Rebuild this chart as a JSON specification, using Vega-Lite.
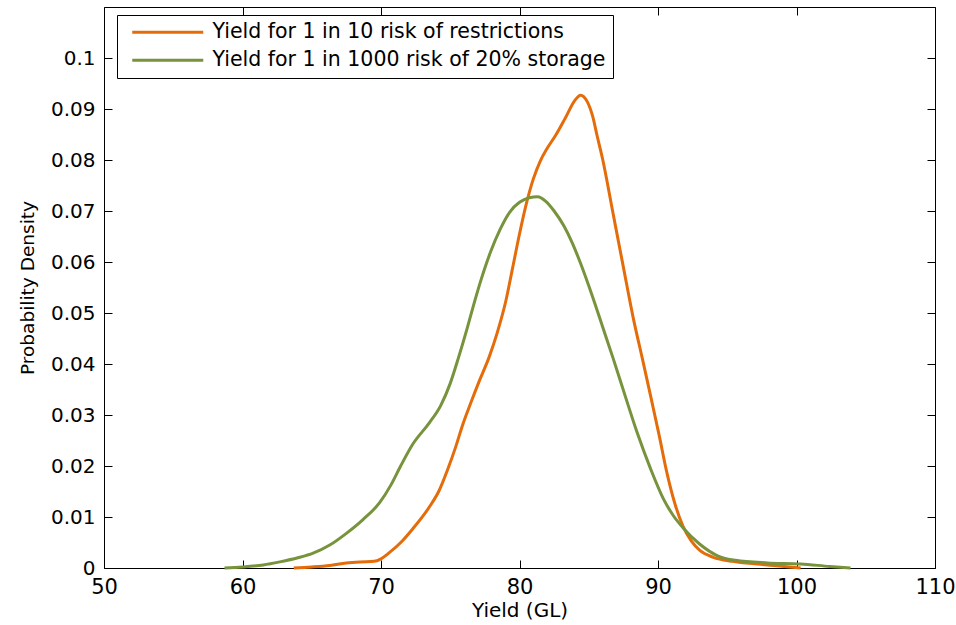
{
  "$schema": "https://vega.github.io/schema/vega-lite/v6.json",
  "width": 831,
  "height": 561,
  "autosize": "none",
  "padding": {"left": 104, "top": 7, "right": 21, "bottom": 57},
  "background": "white",
  "config": {
    "view": {"stroke": "black", "strokeWidth": 1},
    "font": "DejaVu Sans",
    "axis": {"grid": false, "domain": false, "tickColor": "black", "tickWidth": 1, "labelColor": "black", "titleColor": "black", "titleFontWeight": "normal", "tickSize": -8, "labelFlush": false, "labelOverlap": false}
  },
  "datasets": {
    "curves": [
      {"series": "Yield for 1 in 10 risk of restrictions", "x": 63.7, "y": 0},
      {"series": "Yield for 1 in 10 risk of restrictions", "x": 65.0, "y": 0.0002},
      {"series": "Yield for 1 in 10 risk of restrictions", "x": 66.3, "y": 0.0005},
      {"series": "Yield for 1 in 10 risk of restrictions", "x": 67.5, "y": 0.001},
      {"series": "Yield for 1 in 10 risk of restrictions", "x": 68.5, "y": 0.0012},
      {"series": "Yield for 1 in 10 risk of restrictions", "x": 69.5, "y": 0.0013},
      {"series": "Yield for 1 in 10 risk of restrictions", "x": 70.0, "y": 0.0018},
      {"series": "Yield for 1 in 10 risk of restrictions", "x": 70.6, "y": 0.003},
      {"series": "Yield for 1 in 10 risk of restrictions", "x": 71.5, "y": 0.0052},
      {"series": "Yield for 1 in 10 risk of restrictions", "x": 72.3, "y": 0.0077},
      {"series": "Yield for 1 in 10 risk of restrictions", "x": 73.5, "y": 0.012},
      {"series": "Yield for 1 in 10 risk of restrictions", "x": 74.2, "y": 0.0152},
      {"series": "Yield for 1 in 10 risk of restrictions", "x": 74.8, "y": 0.0192},
      {"series": "Yield for 1 in 10 risk of restrictions", "x": 75.4, "y": 0.0238},
      {"series": "Yield for 1 in 10 risk of restrictions", "x": 75.9, "y": 0.0281},
      {"series": "Yield for 1 in 10 risk of restrictions", "x": 76.5, "y": 0.0325},
      {"series": "Yield for 1 in 10 risk of restrictions", "x": 77.1, "y": 0.0367},
      {"series": "Yield for 1 in 10 risk of restrictions", "x": 77.8, "y": 0.0413},
      {"series": "Yield for 1 in 10 risk of restrictions", "x": 78.4, "y": 0.0462},
      {"series": "Yield for 1 in 10 risk of restrictions", "x": 79.0, "y": 0.0522},
      {"series": "Yield for 1 in 10 risk of restrictions", "x": 79.5, "y": 0.0588},
      {"series": "Yield for 1 in 10 risk of restrictions", "x": 80.0, "y": 0.0655},
      {"series": "Yield for 1 in 10 risk of restrictions", "x": 80.5, "y": 0.0715},
      {"series": "Yield for 1 in 10 risk of restrictions", "x": 81.0, "y": 0.0763},
      {"series": "Yield for 1 in 10 risk of restrictions", "x": 81.5, "y": 0.0798},
      {"series": "Yield for 1 in 10 risk of restrictions", "x": 82.0, "y": 0.0823},
      {"series": "Yield for 1 in 10 risk of restrictions", "x": 82.6, "y": 0.0848},
      {"series": "Yield for 1 in 10 risk of restrictions", "x": 83.3, "y": 0.0882},
      {"series": "Yield for 1 in 10 risk of restrictions", "x": 84.0, "y": 0.0917},
      {"series": "Yield for 1 in 10 risk of restrictions", "x": 84.4, "y": 0.0927},
      {"series": "Yield for 1 in 10 risk of restrictions", "x": 84.9, "y": 0.0914},
      {"series": "Yield for 1 in 10 risk of restrictions", "x": 85.3, "y": 0.0884},
      {"series": "Yield for 1 in 10 risk of restrictions", "x": 85.6, "y": 0.0848},
      {"series": "Yield for 1 in 10 risk of restrictions", "x": 86.0, "y": 0.0802},
      {"series": "Yield for 1 in 10 risk of restrictions", "x": 86.75, "y": 0.0696},
      {"series": "Yield for 1 in 10 risk of restrictions", "x": 87.5, "y": 0.059},
      {"series": "Yield for 1 in 10 risk of restrictions", "x": 88.2, "y": 0.0492},
      {"series": "Yield for 1 in 10 risk of restrictions", "x": 88.9, "y": 0.0407},
      {"series": "Yield for 1 in 10 risk of restrictions", "x": 89.5, "y": 0.0333},
      {"series": "Yield for 1 in 10 risk of restrictions", "x": 90.1, "y": 0.0258},
      {"series": "Yield for 1 in 10 risk of restrictions", "x": 90.6, "y": 0.0192},
      {"series": "Yield for 1 in 10 risk of restrictions", "x": 91.2, "y": 0.0128},
      {"series": "Yield for 1 in 10 risk of restrictions", "x": 91.8, "y": 0.0082},
      {"series": "Yield for 1 in 10 risk of restrictions", "x": 92.4, "y": 0.0053},
      {"series": "Yield for 1 in 10 risk of restrictions", "x": 93.0, "y": 0.0035},
      {"series": "Yield for 1 in 10 risk of restrictions", "x": 94.0, "y": 0.0021},
      {"series": "Yield for 1 in 10 risk of restrictions", "x": 95.4, "y": 0.0013},
      {"series": "Yield for 1 in 10 risk of restrictions", "x": 97.9, "y": 0.0006},
      {"series": "Yield for 1 in 10 risk of restrictions", "x": 99.5, "y": 0.0002},
      {"series": "Yield for 1 in 10 risk of restrictions", "x": 100.3, "y": 0},
      {"series": "Yield for 1 in 1000 risk of 20% storage", "x": 58.7, "y": 0},
      {"series": "Yield for 1 in 1000 risk of 20% storage", "x": 60.0, "y": 0.0002},
      {"series": "Yield for 1 in 1000 risk of 20% storage", "x": 61.5, "y": 0.0006},
      {"series": "Yield for 1 in 1000 risk of 20% storage", "x": 62.7, "y": 0.0012},
      {"series": "Yield for 1 in 1000 risk of 20% storage", "x": 64.0, "y": 0.002},
      {"series": "Yield for 1 in 1000 risk of 20% storage", "x": 65.1, "y": 0.0029},
      {"series": "Yield for 1 in 1000 risk of 20% storage", "x": 66.3, "y": 0.0045},
      {"series": "Yield for 1 in 1000 risk of 20% storage", "x": 67.5, "y": 0.0068},
      {"series": "Yield for 1 in 1000 risk of 20% storage", "x": 68.7, "y": 0.0095},
      {"series": "Yield for 1 in 1000 risk of 20% storage", "x": 69.9, "y": 0.0128},
      {"series": "Yield for 1 in 1000 risk of 20% storage", "x": 70.7, "y": 0.0162},
      {"series": "Yield for 1 in 1000 risk of 20% storage", "x": 71.4, "y": 0.0199},
      {"series": "Yield for 1 in 1000 risk of 20% storage", "x": 72.3, "y": 0.0243},
      {"series": "Yield for 1 in 1000 risk of 20% storage", "x": 73.5, "y": 0.0285},
      {"series": "Yield for 1 in 1000 risk of 20% storage", "x": 74.3, "y": 0.0318},
      {"series": "Yield for 1 in 1000 risk of 20% storage", "x": 75.0, "y": 0.0362},
      {"series": "Yield for 1 in 1000 risk of 20% storage", "x": 75.6, "y": 0.0413},
      {"series": "Yield for 1 in 1000 risk of 20% storage", "x": 76.2, "y": 0.0468},
      {"series": "Yield for 1 in 1000 risk of 20% storage", "x": 76.7, "y": 0.0517},
      {"series": "Yield for 1 in 1000 risk of 20% storage", "x": 77.2, "y": 0.0563},
      {"series": "Yield for 1 in 1000 risk of 20% storage", "x": 77.9, "y": 0.0619},
      {"series": "Yield for 1 in 1000 risk of 20% storage", "x": 78.6, "y": 0.0664},
      {"series": "Yield for 1 in 1000 risk of 20% storage", "x": 79.3, "y": 0.0698},
      {"series": "Yield for 1 in 1000 risk of 20% storage", "x": 80.0, "y": 0.0717},
      {"series": "Yield for 1 in 1000 risk of 20% storage", "x": 80.7, "y": 0.0726},
      {"series": "Yield for 1 in 1000 risk of 20% storage", "x": 81.3, "y": 0.0728},
      {"series": "Yield for 1 in 1000 risk of 20% storage", "x": 81.9, "y": 0.0719},
      {"series": "Yield for 1 in 1000 risk of 20% storage", "x": 82.5, "y": 0.0700},
      {"series": "Yield for 1 in 1000 risk of 20% storage", "x": 83.2, "y": 0.0671},
      {"series": "Yield for 1 in 1000 risk of 20% storage", "x": 83.8, "y": 0.0638},
      {"series": "Yield for 1 in 1000 risk of 20% storage", "x": 84.4, "y": 0.0598},
      {"series": "Yield for 1 in 1000 risk of 20% storage", "x": 85.3, "y": 0.053},
      {"series": "Yield for 1 in 1000 risk of 20% storage", "x": 86.0, "y": 0.0473},
      {"series": "Yield for 1 in 1000 risk of 20% storage", "x": 86.75, "y": 0.0412},
      {"series": "Yield for 1 in 1000 risk of 20% storage", "x": 87.6, "y": 0.034},
      {"series": "Yield for 1 in 1000 risk of 20% storage", "x": 88.5, "y": 0.0265},
      {"series": "Yield for 1 in 1000 risk of 20% storage", "x": 89.5, "y": 0.0192},
      {"series": "Yield for 1 in 1000 risk of 20% storage", "x": 90.4, "y": 0.0135},
      {"series": "Yield for 1 in 1000 risk of 20% storage", "x": 91.1, "y": 0.0103},
      {"series": "Yield for 1 in 1000 risk of 20% storage", "x": 91.8, "y": 0.0079},
      {"series": "Yield for 1 in 1000 risk of 20% storage", "x": 93.0, "y": 0.0047},
      {"series": "Yield for 1 in 1000 risk of 20% storage", "x": 94.3, "y": 0.0024},
      {"series": "Yield for 1 in 1000 risk of 20% storage", "x": 95.6, "y": 0.0015},
      {"series": "Yield for 1 in 1000 risk of 20% storage", "x": 97.9, "y": 0.001},
      {"series": "Yield for 1 in 1000 risk of 20% storage", "x": 100.3, "y": 0.0008},
      {"series": "Yield for 1 in 1000 risk of 20% storage", "x": 102.4, "y": 0.0003},
      {"series": "Yield for 1 in 1000 risk of 20% storage", "x": 103.9, "y": 0}
    ]
  },
  "data": {"name": "curves"},
  "layer": [
    {
      "mark": {"type": "line", "strokeWidth": 3, "interpolate": "monotone"},
      "encoding": {
        "x": {
          "field": "x", "type": "quantitative",
          "scale": {"domain": [50, 110], "nice": false, "zero": false},
          "axis": {"orient": "bottom", "values": [50, 60, 70, 80, 90, 100, 110], "format": "d", "labelFontSize": 21, "labelPadding": 16, "title": "Yield (GL)", "titleFontSize": 20, "titlePadding": 3}
        },
        "y": {
          "field": "y", "type": "quantitative",
          "scale": {"domain": [0, 0.11], "nice": false},
          "axis": {"orient": "left", "values": [0, 0.01, 0.02, 0.03, 0.04, 0.05, 0.06, 0.07, 0.08, 0.09, 0.1], "format": "~g", "labelFontSize": 20, "labelPadding": 17, "title": "Probability Density", "titleFontSize": 18.5, "titlePadding": 13}
        },
        "color": {
          "field": "series", "type": "nominal",
          "scale": {"domain": ["Yield for 1 in 10 risk of restrictions", "Yield for 1 in 1000 risk of 20% storage"], "range": ["#E46C0A", "#77933C"]},
          "legend": {
            "title": null, "orient": "none", "legendX": 13, "legendY": 8,
            "padding": 7, "rowPadding": 7, "strokeColor": "black", "fillColor": "white", "cornerRadius": 0,
            "labelFontSize": 20.5, "labelLimit": 600, "labelColor": "black",
            "symbolType": "M-1,0H34.5", "symbolSize": 16, "symbolStrokeWidth": 3, "labelOffset": 68
          }
        }
      }
    },
    {
      "mark": {"type": "point", "opacity": 0},
      "encoding": {
        "x": {"field": "x", "type": "quantitative", "axis": {"orient": "top", "values": [50, 60, 70, 80, 90, 100, 110], "labels": false, "title": null}},
        "y": {"field": "y", "type": "quantitative", "axis": {"orient": "right", "values": [0, 0.01, 0.02, 0.03, 0.04, 0.05, 0.06, 0.07, 0.08, 0.09, 0.1], "labels": false, "title": null}}
      }
    }
  ],
  "resolve": {"axis": {"x": "independent", "y": "independent"}}
}
